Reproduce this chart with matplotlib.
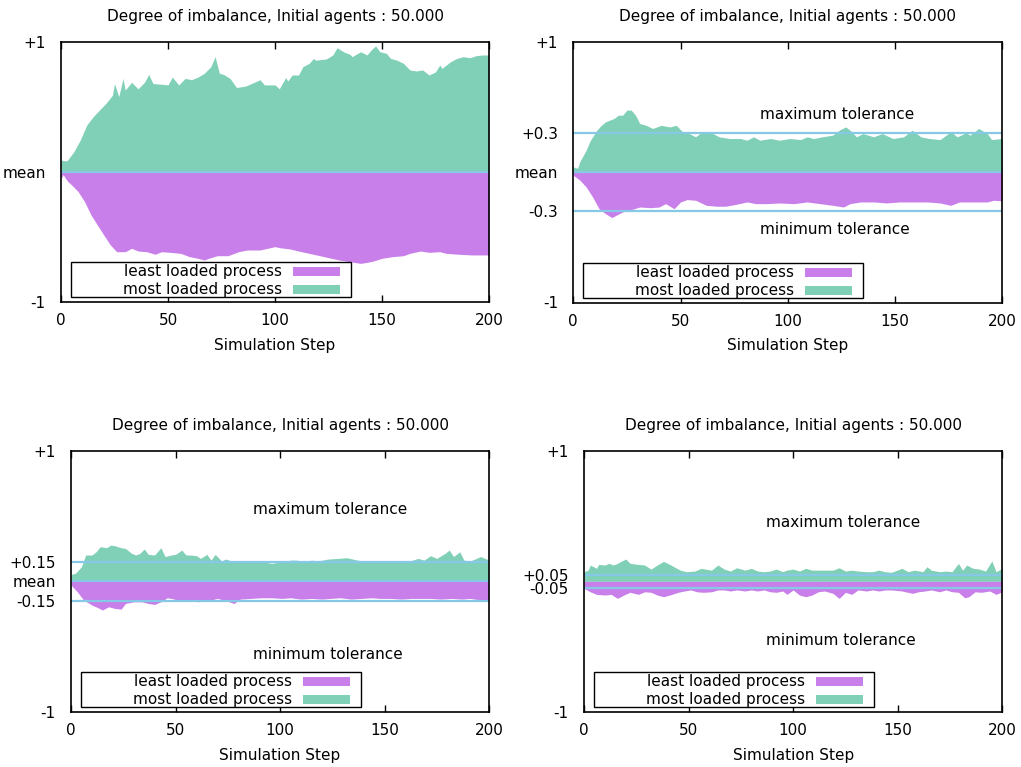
import matplotlib
matplotlib.use("Agg")
import matplotlib.pyplot as plt
from matplotlib.patches import Rectangle

plt.rcParams['font.family'] = ['DejaVu Sans']

TITLE = "Degree of imbalance, Initial agents : 50.000"
XLABEL = "Simulation Step"
XTICKS = [0, 50, 100, 150, 200]

# ---------------- Panel 1 (no tolerance) ----------------
p1_max_steps = [0, 2, 3, 6, 9, 12, 15, 18, 21, 24, 25, 27, 29, 30, 33, 36, 39, 41, 43, 47, 50, 52, 55, 58,
                61, 64, 67, 70, 72, 74, 76, 79, 82, 86, 89, 93, 95, 100, 102, 105, 106, 108, 111, 113, 116,
                118, 119, 124, 127, 129, 132, 135, 136, 140, 143, 145, 147, 149, 152, 154, 157, 160, 163,
                166, 169, 172, 175, 177, 178, 182, 185, 188, 191, 194, 197, 200]
p1_max_vals = [0.092, 0.085, 0.09, 0.156, 0.246, 0.36, 0.425, 0.477, 0.528, 0.59, 0.68, 0.58, 0.72, 0.63,
               0.69, 0.64, 0.69, 0.75, 0.68, 0.675, 0.67, 0.73, 0.67, 0.72, 0.71, 0.73, 0.76, 0.81, 0.887,
               0.76, 0.75, 0.72, 0.65, 0.66, 0.68, 0.71, 0.67, 0.67, 0.64, 0.726, 0.7, 0.746, 0.746, 0.81,
               0.836, 0.874, 0.86, 0.87, 0.9, 0.956, 0.925, 0.905, 0.887, 0.925, 0.9, 0.94, 0.97, 0.925,
               0.913, 0.874, 0.86, 0.836, 0.785, 0.777, 0.785, 0.746, 0.77, 0.823, 0.797, 0.848, 0.874,
               0.887, 0.879, 0.895, 0.9, 0.9]
p1_min_steps = [0, 1, 3, 5, 8, 11, 14, 17, 20, 23, 26, 30, 33, 36, 40, 44, 47, 51, 56, 60, 64, 67, 69, 73,
                78, 83, 87, 93, 100, 102, 107, 111, 116, 121, 125, 130, 135, 140, 143, 146, 150, 155, 160,
                163, 168, 172, 177, 180, 186, 192, 200]
p1_min_vals = [-0.05, -0.02, -0.07, -0.1, -0.151, -0.228, -0.33, -0.408, -0.485, -0.56, -0.613, -0.613,
               -0.587, -0.608, -0.613, -0.633, -0.613, -0.618, -0.626, -0.651, -0.664, -0.677, -0.664,
               -0.644, -0.644, -0.613, -0.6, -0.6, -0.574, -0.582, -0.592, -0.608, -0.626, -0.644, -0.659,
               -0.677, -0.69, -0.703, -0.695, -0.685, -0.664, -0.651, -0.644, -0.626, -0.608, -0.618,
               -0.613, -0.626, -0.633, -0.638, -0.638]

# ---------------- Panel 2 (tolerance 0.3) ----------------
p2_max_steps = [0, 2, 3, 6, 8, 11, 13, 15, 19, 21, 23, 25, 27, 29, 31, 34, 37, 41, 45, 48, 51, 54, 57, 59,
                62, 65, 68, 73, 78, 81, 84, 87, 92, 96, 101, 106, 109, 112, 116, 121, 124, 127, 129, 132,
                135, 140, 144, 149, 154, 158, 162, 166, 171, 176, 179, 183, 185, 189, 193, 195, 200]
p2_max_vals = [0.041, 0.03, 0.08, 0.17, 0.246, 0.323, 0.36, 0.387, 0.413, 0.438, 0.438, 0.477, 0.477,
               0.438, 0.374, 0.36, 0.336, 0.36, 0.348, 0.36, 0.31, 0.297, 0.272, 0.297, 0.31, 0.297,
               0.272, 0.259, 0.259, 0.246, 0.272, 0.246, 0.259, 0.246, 0.259, 0.251, 0.272, 0.259, 0.272,
               0.285, 0.323, 0.348, 0.323, 0.272, 0.297, 0.272, 0.297, 0.259, 0.272, 0.323, 0.272, 0.259,
               0.251, 0.31, 0.272, 0.302, 0.285, 0.336, 0.297, 0.251, 0.259]
p2_min_steps = [0, 3, 6, 9, 12, 15, 18, 20, 23, 26, 31, 36, 40, 43, 47, 50, 53, 57, 62, 67, 71, 76, 81, 85,
                90, 96, 103, 109, 115, 121, 126, 129, 134, 140, 146, 152, 158, 165, 171, 176, 180, 186,
                193, 196, 200]
p2_min_vals = [-0.023, -0.06, -0.113, -0.19, -0.28, -0.318, -0.348, -0.33, -0.305, -0.292, -0.267, -0.272,
               -0.267, -0.241, -0.28, -0.228, -0.21, -0.215, -0.254, -0.261, -0.261, -0.246, -0.228,
               -0.241, -0.241, -0.236, -0.241, -0.228, -0.241, -0.254, -0.267, -0.241, -0.228, -0.228,
               -0.236, -0.228, -0.228, -0.228, -0.236, -0.254, -0.228, -0.228, -0.228, -0.215, -0.22]

# ---------------- Panel 3 (tolerance 0.15) ----------------
p3_max_steps = [0, 2, 5, 7, 10, 12, 14, 17, 19, 21, 24, 26, 29, 31, 33, 35, 37, 40, 43, 45, 48, 50, 53, 55,
                57, 60, 62, 65, 67, 69, 72, 74, 77, 80, 83, 86, 89, 92, 96, 99, 102, 105, 108, 112, 115,
                118, 123, 128, 132, 137, 142, 147, 152, 156, 161, 166, 169, 172, 175, 179, 181, 183, 186,
                188, 191, 196, 200]
p3_max_vals = [0.054, 0.06, 0.112, 0.202, 0.202, 0.227, 0.266, 0.258, 0.278, 0.273, 0.258, 0.253, 0.215,
               0.202, 0.215, 0.248, 0.207, 0.202, 0.258, 0.19, 0.202, 0.207, 0.24, 0.202, 0.202, 0.197,
               0.176, 0.207, 0.163, 0.207, 0.156, 0.171, 0.156, 0.15, 0.145, 0.145, 0.145, 0.15, 0.138,
               0.145, 0.15, 0.163, 0.163, 0.145, 0.163, 0.156, 0.171, 0.176, 0.181, 0.163, 0.15, 0.156,
               0.145, 0.15, 0.15, 0.176, 0.163, 0.197, 0.176, 0.215, 0.24, 0.19, 0.227, 0.163, 0.156,
               0.19, 0.163]
p3_min_steps = [0, 3, 6, 10, 13, 15, 18, 21, 24, 26, 30, 34, 37, 40, 43, 46, 48, 53, 57, 61, 64, 67, 70, 73,
                78, 81, 86, 91, 96, 101, 105, 110, 115, 120, 124, 129, 134, 139, 144, 148, 153, 158, 163,
                168, 172, 177, 182, 187, 191, 196, 200]
p3_min_vals = [-0.028, -0.08, -0.143, -0.182, -0.203, -0.22, -0.195, -0.208, -0.213, -0.17, -0.157, -0.157,
               -0.17, -0.177, -0.157, -0.126, -0.131, -0.151, -0.143, -0.157, -0.143, -0.143, -0.131,
               -0.143, -0.17, -0.136, -0.131, -0.126, -0.126, -0.131, -0.126, -0.136, -0.131, -0.136,
               -0.131, -0.126, -0.136, -0.131, -0.126, -0.131, -0.131, -0.136, -0.131, -0.131, -0.131,
               -0.136, -0.131, -0.136, -0.131, -0.143, -0.138]

# ---------------- Panel 4 (tolerance 0.05) ----------------
p4_max_steps = [0, 2, 3, 6, 7, 10, 12, 14, 16, 18, 20, 22, 26, 29, 32, 35, 38, 41, 43, 46, 49, 53, 56, 58,
                61, 64, 67, 70, 73, 77, 80, 83, 86, 89, 92, 95, 97, 100, 103, 106, 109, 112, 116, 119, 122,
                125, 128, 131, 135, 138, 141, 144, 147, 152, 155, 158, 162, 164, 166, 170, 173, 176, 179,
                181, 183, 186, 189, 192, 195, 197, 200]
p4_max_vals = [0.074, 0.086, 0.125, 0.1, 0.13, 0.125, 0.138, 0.125, 0.138, 0.156, 0.171, 0.138, 0.13,
               0.125, 0.094, 0.125, 0.153, 0.13, 0.112, 0.086, 0.074, 0.079, 0.1, 0.094, 0.086, 0.125,
               0.094, 0.079, 0.104, 0.086, 0.1, 0.079, 0.074, 0.079, 0.094, 0.074, 0.086, 0.094, 0.079,
               0.1, 0.086, 0.086, 0.086, 0.086, 0.104, 0.079, 0.086, 0.079, 0.074, 0.074, 0.086, 0.074,
               0.069, 0.1, 0.074, 0.086, 0.074, 0.112, 0.086, 0.074, 0.079, 0.074, 0.138, 0.086, 0.125,
               0.1, 0.094, 0.079, 0.156, 0.074, 0.1]
p4_min_steps = [0, 3, 6, 10, 13, 16, 19, 22, 26, 29, 32, 35, 38, 41, 45, 48, 51, 54, 57, 61, 64, 67, 70, 73,
                77, 80, 83, 86, 89, 92, 95, 97, 100, 103, 106, 109, 112, 115, 119, 122, 125, 128, 131, 135,
                138, 141, 144, 147, 152, 157, 160, 163, 166, 170, 173, 176, 179, 182, 184, 187, 190, 194,
                197, 200]
p4_min_vals = [-0.054, -0.08, -0.1, -0.105, -0.1, -0.131, -0.105, -0.084, -0.1, -0.08, -0.084, -0.105,
               -0.118, -0.105, -0.084, -0.074, -0.066, -0.08, -0.084, -0.08, -0.066, -0.066, -0.074,
               -0.066, -0.074, -0.066, -0.074, -0.066, -0.08, -0.084, -0.074, -0.1, -0.066, -0.105,
               -0.118, -0.105, -0.08, -0.074, -0.092, -0.131, -0.084, -0.1, -0.066, -0.074, -0.066,
               -0.074, -0.066, -0.066, -0.074, -0.092, -0.08, -0.074, -0.066, -0.08, -0.066, -0.08,
               -0.084, -0.126, -0.118, -0.08, -0.084, -0.074, -0.1, -0.08]

tolerances = [None, 0.3, 0.15, 0.05]
ytick_vals = [[1, 0, -1], [1, 0.3, 0, -0.3, -1], [1, 0.15, 0, -0.15, -1], [1, 0.05, -0.05, -1]]
ytick_labels = [["+1", "mean", "-1"], ["+1", "+0.3", "mean", "-0.3", "-1"],
                ["+1", "+0.15", "mean", "-0.15", "-1"], ["+1", "+0.05", "-0.05", "-1"]]
show_mean = [True, True, True, False]
max_text_y = [None, 0.44, 0.555, 0.455]
min_text_y = [None, -0.44, -0.56, -0.455]
TEXT_X = 87

series = [
    (p1_max_steps, p1_max_vals, p1_min_steps, p1_min_vals),
    (p2_max_steps, p2_max_vals, p2_min_steps, p2_min_vals),
    (p3_max_steps, p3_max_vals, p3_min_steps, p3_min_vals),
    (p4_max_steps, p4_max_vals, p4_min_steps, p4_min_vals),
]

GREEN = "#80cfb7"
PURPLE = "#c97fe9"
LINE = "#87c8e6"

W, H = 1021, 767
fig = plt.figure(figsize=(W / 100, H / 100), dpi=100)
# axes boxes in pixels: left, top, right, bottom
boxes = [(61, 42, 489, 302), (573.3, 42, 1002.3, 302.5), (71, 451, 489, 711.7), (584, 451, 1002.3, 711.7)]

for i, (l, t, r, b) in enumerate(boxes):
    ax = fig.add_axes([l / W, (H - b) / H, (r - l) / W, (b - t) / H])
    mx_s, mx_v, mn_s, mn_v = series[i]
    ax.fill_between(mx_s, 0, mx_v, color=GREEN, linewidth=0, zorder=1)
    ax.fill_between(mn_s, mn_v, 0, color=PURPLE, linewidth=0, zorder=1)
    tol = tolerances[i]
    if show_mean[i]:
        ax.axhline(0, color=LINE, lw=1.6, zorder=2)
    if tol is not None:
        ax.axhline(tol, color=LINE, lw=1.6, zorder=2)
        ax.axhline(-tol, color=LINE, lw=1.6, zorder=2)
        ax.text(TEXT_X, max_text_y[i], "maximum tolerance", ha="left", va="center", fontsize=11)
        ax.text(TEXT_X, min_text_y[i], "minimum tolerance", ha="left", va="center", fontsize=11)

    ax.set_xlim(0, 200)
    ax.set_ylim(-1, 1)
    ax.set_xticks(XTICKS)
    ax.set_yticks(ytick_vals[i])
    ax.set_yticklabels(ytick_labels[i])
    ax.tick_params(axis="x", direction="in", length=5, width=1, top=True, labelsize=11, pad=8)
    ax.tick_params(axis="y", length=0, labelsize=11, pad=11)
    for sp in ax.spines.values():
        sp.set_linewidth(1.2)
        sp.set_zorder(5)
    ax.set_title(TITLE, fontsize=11, pad=15)
    ax.set_xlabel(XLABEL, fontsize=11, labelpad=7)

    # legend drawn in pixel offsets from axes lower-left
    aw, ah = r - l, b - t
    fx = lambda d: d / aw
    fy = lambda d: d / ah
    ax.add_patch(Rectangle((fx(10), fy(4.7)), fx(280), fy(35), transform=ax.transAxes,
                           facecolor="white", edgecolor="black", lw=1.0, zorder=6, clip_on=False))
    rows = [("least loaded process", PURPLE, 30.5), ("most loaded process", GREEN, 12.5)]
    for label, col, yc in rows:
        ax.text(fx(221), fy(yc), label, transform=ax.transAxes, ha="right", va="center",
                fontsize=11, zorder=7)
        ax.add_patch(Rectangle((fx(232), fy(yc - 4.5)), fx(47), fy(9), transform=ax.transAxes,
                               facecolor=col, edgecolor="none", zorder=7, clip_on=False))

fig.savefig("out.png", dpi=100)
